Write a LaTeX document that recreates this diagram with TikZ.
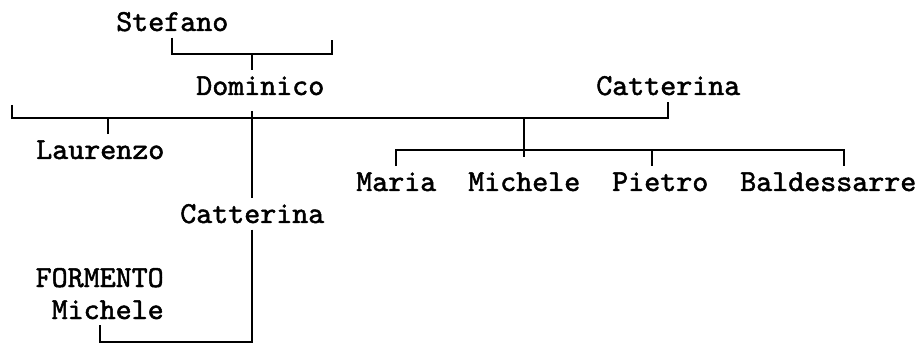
\documentclass[tikz,border=0pt]{standalone}
\usepackage{fontspec}
\newfontfamily\treefont{lmmono10-regular.otf}[FakeBold=1.6]
\usetikzlibrary{positioning}

\begin{document}
\begin{tikzpicture}[
    x=0.75pt, y=-0.75pt,
    font=\treefont\bfseries\fontsize{22.86pt}{24pt}\selectfont,
    person/.style={inner xsep=0pt, inner ysep=4.5pt, anchor=base west},
    link/.style={draw=black, line width=1.4pt}
]
\useasboundingbox (0,0) rectangle (920,345);

% Nodes
\node[person] (stefano) at (116,31) {Stefano};
\node[person] (dominico) at (196,95) {Dominico};
\node[person] (catterinaW) at (596,95) {Catterina};
\node[person] (laurenzo) at (36,159) {Laurenzo};
\node[person] (maria) at (356,191) {Maria};
\node[person] (michele) at (468,191) {Michele};
\node[person] (pietro) at (612,191) {Pietro};
\node[person] (baldessarre) at (740,191) {Baldessarre};
\node[person] (catterinaD) at (180,223) {Catterina};
\node[person, anchor=base east, align=right] (formento) at (164,319) {FORMENTO\\Michele};

% Junctions
\coordinate (otherFoot) at (332,40);
\coordinate (top) at (252,54);
\coordinate (leftEnd) at (12,105);
\coordinate (crossTop) at (252,111);
\coordinate (cross) at (252,118);
\coordinate (kidsJoin) at (524,118);
\coordinate (kidsCross) at (524,150);
\coordinate (bottomCorner) at (252,342);

% Edges
\draw[link] (stefano.south) |- (top) -| (otherFoot);
\draw[link] (top) -- (dominico.north -| top);
\draw[link] (leftEnd) |- (cross) -| (catterinaW.south);
\draw[link] (laurenzo.north -| 108,0) -- (cross -| 108,0);
\draw[link] (crossTop) -- (catterinaD.north -| cross);
\draw[link] (catterinaD.south -| cross) -- (bottomCorner) -| (formento.south);
\draw[link] (kidsJoin) -- ([yshift=-5pt]kidsCross);
\draw[link] (maria.north) |- (kidsCross) -| (baldessarre.north -| 844,0);
\draw[link] (kidsCross -| 652,0) -- (pietro.north -| 652,0);
\end{tikzpicture}
\end{document}
